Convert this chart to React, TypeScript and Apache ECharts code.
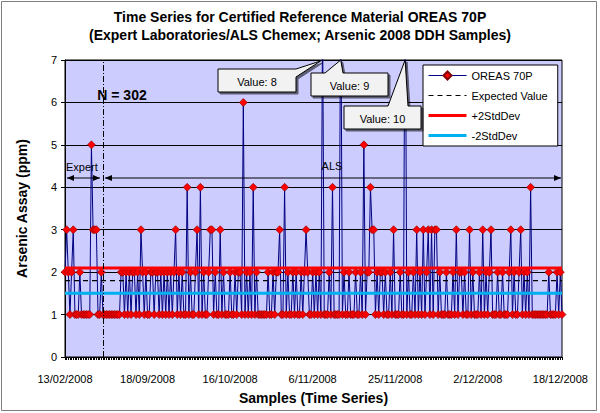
import React, { useEffect, useRef } from "react";
import * as echarts from "echarts";

// Arsenic assay values (ppm), 302 samples in time order
const values: number[] = [
  2, 3, 2, 1, 2, 3, 1, 1, 1, 2,
  1, 1, 1, 1, 1, 1, 5, 3, 3, 3,
  1, 1, 2, 1, 1, 1, 1, 1, 1, 1,
  1, 1, 1, 1, 2, 2, 1, 2, 1, 2,
  1, 2, 2, 1, 2, 1, 3, 2, 1, 2,
  1, 1, 2, 2, 1, 2, 2, 1, 2, 1,
  2, 1, 2, 1, 2, 1, 2, 3, 1, 2,
  1, 2, 1, 1, 4, 1, 2, 1, 1, 2,
  3, 1, 4, 1, 2, 1, 1, 2, 3, 3,
  1, 2, 1, 1, 3, 1, 2, 1, 1, 1,
  2, 1, 1, 2, 1, 2, 2, 1, 6, 1,
  2, 1, 2, 1, 4, 1, 2, 1, 1, 1,
  1, 1, 1, 2, 1, 1, 2, 1, 2, 2,
  3, 1, 1, 4, 1, 2, 1, 1, 2, 1,
  2, 1, 1, 2, 1, 2, 3, 2, 1, 1,
  2, 1, 2, 1, 2, 1, 8, 1, 1, 1,
  2, 1, 4, 1, 1, 1, 1, 9, 1, 2,
  1, 1, 2, 1, 1, 1, 2, 1, 1, 2,
  1, 5, 1, 2, 2, 4, 3, 3, 1, 2,
  1, 2, 2, 1, 2, 1, 1, 2, 1, 3,
  1, 1, 1, 2, 1, 1, 10, 1, 2, 1,
  1, 2, 1, 3, 1, 2, 1, 3, 1, 2,
  3, 1, 3, 1, 3, 3, 1, 2, 1, 1,
  1, 2, 1, 1, 1, 2, 1, 3, 1, 2,
  2, 1, 2, 1, 1, 3, 1, 2, 1, 1,
  1, 2, 1, 3, 1, 2, 1, 2, 3, 1,
  1, 1, 2, 1, 1, 2, 1, 1, 1, 2,
  3, 1, 2, 1, 1, 2, 3, 1, 2, 1,
  2, 1, 4, 1, 1, 1, 1, 1, 1, 1,
  1, 1, 1, 2, 1, 1, 1, 1, 2, 1,
  2, 1,
];

const tickLabels: string[] = [
  "13/02/2008", "18/09/2008", "16/10/2008", "6/11/2008",
  "25/11/2008", "2/12/2008", "18/12/2008",
];
const tickStep = 50;
const expectedValue = 1.8;
const plus2SD = 2.1;
const minus2SD = 1.5;
const expertCount = 23;
const yTicks: number[] = [0, 1, 2, 3, 4, 5, 6, 7];
const calloutValues: number[] = [8, 9, 10];

const FONT = '"Liberation Sans", Arial, sans-serif';

export default function App() {
  const ref = useRef<HTMLDivElement>(null);
  useEffect(() => {
    if (!ref.current) return;
    const chart = echarts.init(ref.current, undefined, { renderer: "svg" });
    const categories = values.map((_, i) => String(i + 1));
    const flat = (v: number) => values.map(() => v);

    chart.setOption({
      animation: false,
      backgroundColor: "#ffffff",
      textStyle: { fontFamily: FONT },
      title: {
        text: "Time Series for Certified Reference Material OREAS 70P\n(Expert Laboratories/ALS Chemex; Arsenic 2008 DDH Samples)",
        left: "center",
        top: 3,
        textStyle: { fontSize: 14, fontWeight: "bold", color: "#000", lineHeight: 18, fontFamily: FONT },
      },
      grid: {
        left: 65,
        right: 38,
        top: 60,
        bottom: 56,
        show: true,
        backgroundColor: "#CCCCFF",
        borderColor: "#000",
        borderWidth: 1,
      },
      legend: {
        orient: "vertical",
        left: 423,
        top: 65,
        backgroundColor: "#ffffff",
        borderColor: "#000",
        borderWidth: 1,
        padding: [5, 10, 5, 4],
        itemGap: 9,
        itemWidth: 38,
        itemHeight: 10,
        textStyle: { fontSize: 11, color: "#000", fontFamily: FONT },
        data: [
          { name: "OREAS 70P", lineStyle: { width: 1 } },
          { name: "Expected Value", itemStyle: { opacity: 0 }, lineStyle: { width: 1.2 } },
          { name: "+2StdDev", itemStyle: { opacity: 0 }, lineStyle: { width: 3 } },
          { name: "-2StdDev", itemStyle: { opacity: 0 }, lineStyle: { width: 3 } },
        ],
      },
      xAxis: {
        type: "category",
        data: categories,
        boundaryGap: false,
        name: "Samples (Time Series)",
        nameLocation: "middle",
        nameGap: 34,
        nameTextStyle: { fontSize: 14, fontWeight: "bold", color: "#000", fontFamily: FONT },
        axisLine: { lineStyle: { color: "#000", width: 1 } },
        axisTick: { show: true, interval: 0, length: 3, lineStyle: { color: "#000" } },
        axisLabel: {
          interval: tickStep - 1,
          fontSize: 11,
          color: "#000",
          margin: 16,
          fontFamily: FONT,
          formatter: (_v: string, i: number) => tickLabels[Math.round(i / tickStep)] ?? "",
        },
        splitLine: { show: false },
      },
      yAxis: {
        type: "value",
        min: yTicks[0],
        max: yTicks[yTicks.length - 1],
        interval: 1,
        name: "Arsenic Assay (ppm)",
        nameLocation: "middle",
        nameGap: 36,
        nameTextStyle: { fontSize: 14, fontWeight: "bold", color: "#000", fontFamily: FONT },
        axisLine: { show: true, lineStyle: { color: "#000" } },
        axisTick: { show: true, length: 4, lineStyle: { color: "#000" } },
        axisLabel: { fontSize: 11, color: "#000", margin: 8, fontFamily: FONT },
        splitLine: { show: true, lineStyle: { color: "#000", width: 1 } },
      },
      series: [
        {
          name: "OREAS 70P",
          type: "line",
          data: values,
          symbol: "diamond",
          symbolSize: 8,
          showAllSymbol: true,
          clip: true,
          itemStyle: { color: "#FF0000", borderColor: "#800000", borderWidth: 0.6 },
          lineStyle: { color: "#000080", width: 1 },
          z: 2,
          markLine: {
            silent: true,
            symbol: ["none", "none"],
            label: { show: false },
            lineStyle: { color: "#000", width: 1, type: [6, 2, 1, 2] },
            data: [{ xAxis: expertCount }],
          },
        },
        {
          name: "Expected Value",
          type: "line",
          data: flat(expectedValue),
          symbol: "none",
          itemStyle: { color: "#000" },
          lineStyle: { color: "#000", width: 1.2, type: [5, 4] },
          z: 3,
        },
        {
          name: "+2StdDev",
          type: "line",
          data: flat(plus2SD),
          symbol: "none",
          itemStyle: { color: "#FF0000" },
          lineStyle: { color: "#FF0000", width: 3 },
          z: 3,
        },
        {
          name: "-2StdDev",
          type: "line",
          data: flat(minus2SD),
          symbol: "none",
          itemStyle: { color: "#00B0F0" },
          lineStyle: { color: "#00B0F0", width: 3 },
          z: 3,
        },
      ],
    });

    // annotations
    const spikeIdx = calloutValues.map((v) => values.indexOf(v));
    const apex = spikeIdx.map((i) => chart.convertToPixel({ gridIndex: 0 }, [i, 7]) as number[]);
    const topY = apex[0][1];
    const boxStyle = { fill: "#F2F2F2", stroke: "#000", lineWidth: 1, shadowColor: "rgba(0,0,0,0.55)", shadowOffsetX: 2, shadowOffsetY: 2, shadowBlur: 0 };
    const textStyle = (t: string, x: number, y: number, size = 11, bold = false, align = "center") => ({
      type: "text",
      x,
      y,
      z: 20,
      style: { text: t, fill: "#000", font: `${bold ? "bold " : ""}${size}px ${FONT}`, textAlign: align, textVerticalAlign: "middle" },
    });
    const head = (x: number, y: number, dir: number) => ({
      type: "polygon",
      z: 20,
      shape: { points: [[x, y], [x - dir * 7, y - 3], [x - dir * 7, y + 3]] },
      style: { fill: "#000" },
    });
    const arrowY = 178;
    const gLeft = chart.convertToPixel({ gridIndex: 0 }, [0, 0]) as number[];
    const gRight = chart.convertToPixel({ gridIndex: 0 }, [values.length - 1, 0]) as number[];
    const xDiv = chart.convertToPixel({ gridIndex: 0 }, [expertCount, 0]) as number[];

    const b8 = { x1: 218, y1: 69, x2: 296, y2: 92 };
    const b9 = { x1: 311, y1: 73, x2: 388, y2: 96 };
    const b10 = { x1: 344, y1: 106, x2: 421, y2: 129 };

    chart.setOption({
      graphic: [
        {
          type: "rect",
          z: 0,
          shape: { x: 1.5, y: 1.5, width: 595, height: 409 },
          style: { fill: "none", stroke: "#7f7f7f", lineWidth: 1 },
        },
        // callout 8: tail from right side
        {
          type: "polygon",
          z: 15,
          shape: {
            points: [
              [b8.x1, b8.y1], [b8.x2, b8.y1], [apex[0][0] - 2, topY + 1], [b8.x2, b8.y1 + 8],
              [b8.x2, b8.y2], [b8.x1, b8.y2],
            ],
          },
          style: boxStyle,
        },
        textStyle(`Value: ${calloutValues[0]}`, (b8.x1 + b8.x2) / 2, (b8.y1 + b8.y2) / 2 + 1),
        // callout 9: tail from top
        {
          type: "polygon",
          z: 15,
          shape: {
            points: [
              [b9.x1, b9.y1], [b9.x1 + 14, b9.y1], [apex[1][0], topY], [b9.x1 + 32, b9.y1],
              [b9.x2, b9.y1], [b9.x2, b9.y2], [b9.x1, b9.y2],
            ],
          },
          style: boxStyle,
        },
        textStyle(`Value: ${calloutValues[1]}`, (b9.x1 + b9.x2) / 2, (b9.y1 + b9.y2) / 2 + 1),
        // callout 10: tail from top
        {
          type: "polygon",
          z: 15,
          shape: {
            points: [
              [b10.x1, b10.y1], [b10.x1 + 44, b10.y1], [apex[2][0], topY], [b10.x1 + 64, b10.y1],
              [b10.x2, b10.y1], [b10.x2, b10.y2], [b10.x1, b10.y2],
            ],
          },
          style: boxStyle,
        },
        textStyle(`Value: ${calloutValues[2]}`, (b10.x1 + b10.x2) / 2, (b10.y1 + b10.y2) / 2 + 1),
        // N = 302
        textStyle(`N = ${values.length}`, 122, 95, 14, true),
        // Expert / ALS labels and arrows
        textStyle("Expert", gLeft[0] + 1, 167, 11, false, "left"),
        textStyle("ALS", 332, 166, 11),
        {
          type: "line",
          z: 20,
          shape: { x1: gLeft[0] + 2, y1: arrowY, x2: xDiv[0] - 3, y2: arrowY },
          style: { stroke: "#000", lineWidth: 1 },
        },
        head(gLeft[0] + 2, arrowY, -1),
        head(xDiv[0] - 3, arrowY, 1),
        {
          type: "line",
          z: 20,
          shape: { x1: xDiv[0] + 2, y1: arrowY, x2: gRight[0] - 1, y2: arrowY },
          style: { stroke: "#000", lineWidth: 1 },
        },
        head(xDiv[0] + 2, arrowY, -1),
        head(gRight[0] - 1, arrowY, 1),
      ],
    });

    return () => chart.dispose();
  }, []);

  return (
    <div
      ref={ref}
      style={{ position: "fixed", left: 0, top: 0, width: 600, height: 413, background: "#fff" }}
    />
  );
}
